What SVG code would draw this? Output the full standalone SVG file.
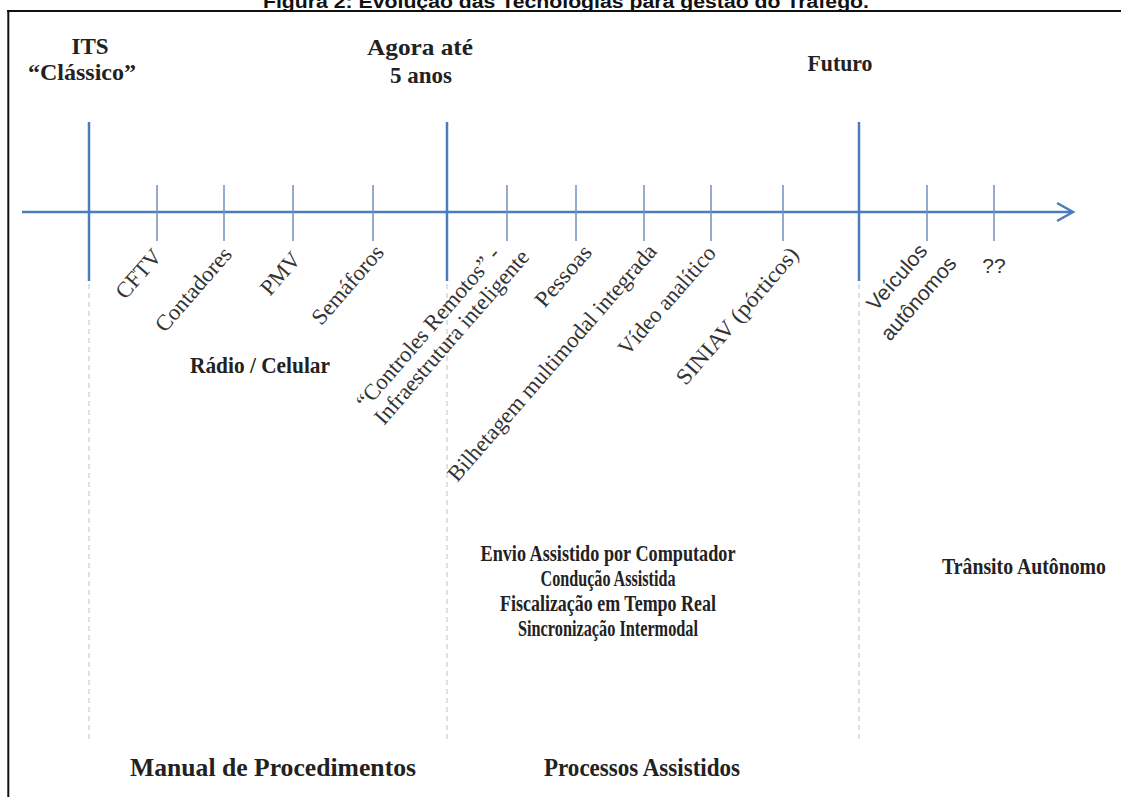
<svg xmlns="http://www.w3.org/2000/svg" width="1121" height="797" viewBox="0 0 1121 797">
<style>
.bg{fill:#ffffff}
.frame{stroke:#111;stroke-width:2;fill:none}
.title{font-family:"Liberation Sans",Arial,sans-serif;font-weight:bold;font-size:18px;fill:#111}
.axis{stroke:#4a7ebb;stroke-width:2.5;fill:none}
.main{stroke:#4a7ebb;stroke-width:2.5}
.tick{stroke:#6f8fbb;stroke-width:1.5}
.dash{stroke:#cccccc;stroke-width:1.2;stroke-dasharray:5 4}
.hdr{font-family:"Liberation Serif","Times New Roman",serif;font-weight:bold;font-size:23px;fill:#222;text-anchor:middle}
.lbl{font-family:"Liberation Serif","Times New Roman",serif;font-size:22.5px;fill:#333}
.sans{font-family:"Liberation Sans",Arial,sans-serif;font-size:21px;fill:#333}
.bold{font-family:"Liberation Serif","Times New Roman",serif;font-weight:bold;font-size:24px;fill:#222;text-anchor:middle}
.big{font-size:26px}
</style>
<rect class="bg" x="0" y="0" width="1121" height="797"/>
<text class="title" x="566" y="8" text-anchor="middle" textLength="606" lengthAdjust="spacingAndGlyphs">Figura 2: Evolução das Tecnologias para gestão do Tráfego.</text>
<path class="frame" d="M7 11 H1121 M8.3 10 V797"/>

<g id="connectors">
  <line class="axis" x1="22" y1="212" x2="1071" y2="212"/>
  <polyline class="axis" stroke-width="3" points="1057,203 1073,212 1057,221"/>
  <line class="main" x1="89" y1="122" x2="89" y2="281"/>
  <line class="main" x1="447" y1="122" x2="447" y2="281"/>
  <line class="main" x1="859" y1="122" x2="859" y2="281"/>
  <line class="tick" x1="157" y1="185" x2="157" y2="241"/>
  <line class="tick" x1="224" y1="185" x2="224" y2="241"/>
  <line class="tick" x1="293" y1="185" x2="293" y2="241"/>
  <line class="tick" x1="373" y1="185" x2="373" y2="241"/>
  <line class="tick" x1="507" y1="185" x2="507" y2="241"/>
  <line class="tick" x1="576" y1="185" x2="576" y2="241"/>
  <line class="tick" x1="644" y1="185" x2="644" y2="241"/>
  <line class="tick" x1="711" y1="185" x2="711" y2="241"/>
  <line class="tick" x1="783" y1="185" x2="783" y2="241"/>
  <line class="tick" x1="927" y1="185" x2="927" y2="241"/>
  <line class="tick" x1="994" y1="185" x2="994" y2="241"/>
  <line class="dash" x1="89" y1="284" x2="89" y2="742"/>
  <line class="dash" x1="447" y1="284" x2="447" y2="742"/>
  <line class="dash" x1="859" y1="284" x2="859" y2="742"/>
</g>

<g id="era-classico">
  <text class="hdr" x="90" y="54">ITS</text>
  <text class="hdr" x="82" y="80" textLength="108" lengthAdjust="spacingAndGlyphs">“Clássico”</text>
</g>
<g id="era-agora">
  <text class="hdr" x="420" y="55" textLength="106" lengthAdjust="spacingAndGlyphs">Agora até</text>
  <text class="hdr" x="421" y="83">5 anos</text>
</g>
<g id="era-futuro">
  <text class="hdr" x="840" y="71" textLength="65" lengthAdjust="spacingAndGlyphs">Futuro</text>
</g>

<g id="tech-cftv"><text class="lbl" text-anchor="end" transform="translate(163,257) rotate(-49)">CFTV</text></g>
<g id="tech-contadores"><text class="lbl" text-anchor="end" transform="translate(233,255) rotate(-49)" textLength="104" lengthAdjust="spacingAndGlyphs">Contadores</text></g>
<g id="tech-pmv"><text class="lbl" text-anchor="end" transform="translate(302,260) rotate(-49)">PMV</text></g>
<g id="tech-semaforos"><text class="lbl" text-anchor="end" transform="translate(385,253) rotate(-49)" textLength="97" lengthAdjust="spacingAndGlyphs">Semáforos</text></g>
<g id="tech-controles">
  <text class="lbl" transform="translate(384,426) rotate(-49)">
    <tspan x="0" y="-24">“Controles Remotos” -</tspan>
    <tspan x="0" y="0">Infraestrutura inteligente</tspan>
  </text>
</g>
<g id="tech-pessoas"><text class="lbl" text-anchor="end" transform="translate(593,253) rotate(-49)" textLength="74" lengthAdjust="spacingAndGlyphs">Pessoas</text></g>
<g id="tech-bilhetagem"><text class="lbl" text-anchor="end" transform="translate(658,252) rotate(-49)" textLength="306" lengthAdjust="spacingAndGlyphs">Bilhetagem multimodal  integrada</text></g>
<g id="tech-video"><text class="lbl" text-anchor="end" transform="translate(717,254) rotate(-49)" textLength="136" lengthAdjust="spacingAndGlyphs">Vídeo analítico</text></g>
<g id="tech-siniav"><text class="lbl" text-anchor="end" transform="translate(800,255) rotate(-49)" textLength="174" lengthAdjust="spacingAndGlyphs">SINIAV (pórticos)</text></g>
<g id="tech-veiculos">
  <text class="sans" transform="translate(876,312) rotate(-49)" textLength="80" lengthAdjust="spacingAndGlyphs">Veículos</text>
  <text class="sans" transform="translate(890,342) rotate(-49)" textLength="103" lengthAdjust="spacingAndGlyphs">autônomos</text>
</g>
<g id="tech-unknown"><text class="sans" x="994" y="273" text-anchor="middle" font-size="20">??</text></g>

<g id="comm-radio"><text class="bold" x="260" y="373" textLength="140" lengthAdjust="spacingAndGlyphs">Rádio / Celular</text></g>
<g id="comm-assistido">
  <text class="bold" x="608" y="561" textLength="255" lengthAdjust="spacingAndGlyphs">Envio Assistido por Computador</text>
  <text class="bold" x="608" y="586" textLength="135" lengthAdjust="spacingAndGlyphs">Condução Assistida</text>
  <text class="bold" x="608" y="611" textLength="216" lengthAdjust="spacingAndGlyphs">Fiscalização em Tempo Real</text>
  <text class="bold" x="608" y="636" textLength="180" lengthAdjust="spacingAndGlyphs">Sincronização Intermodal</text>
</g>
<g id="comm-autonomo"><text class="bold" x="1024" y="574" textLength="164" lengthAdjust="spacingAndGlyphs">Trânsito Autônomo</text></g>
<g id="proc-manual"><text class="bold big" x="273" y="776" textLength="286" lengthAdjust="spacingAndGlyphs">Manual de Procedimentos</text></g>
<g id="proc-assistidos"><text class="bold big" x="642" y="776" textLength="196" lengthAdjust="spacingAndGlyphs">Processos Assistidos</text></g>
</svg>
